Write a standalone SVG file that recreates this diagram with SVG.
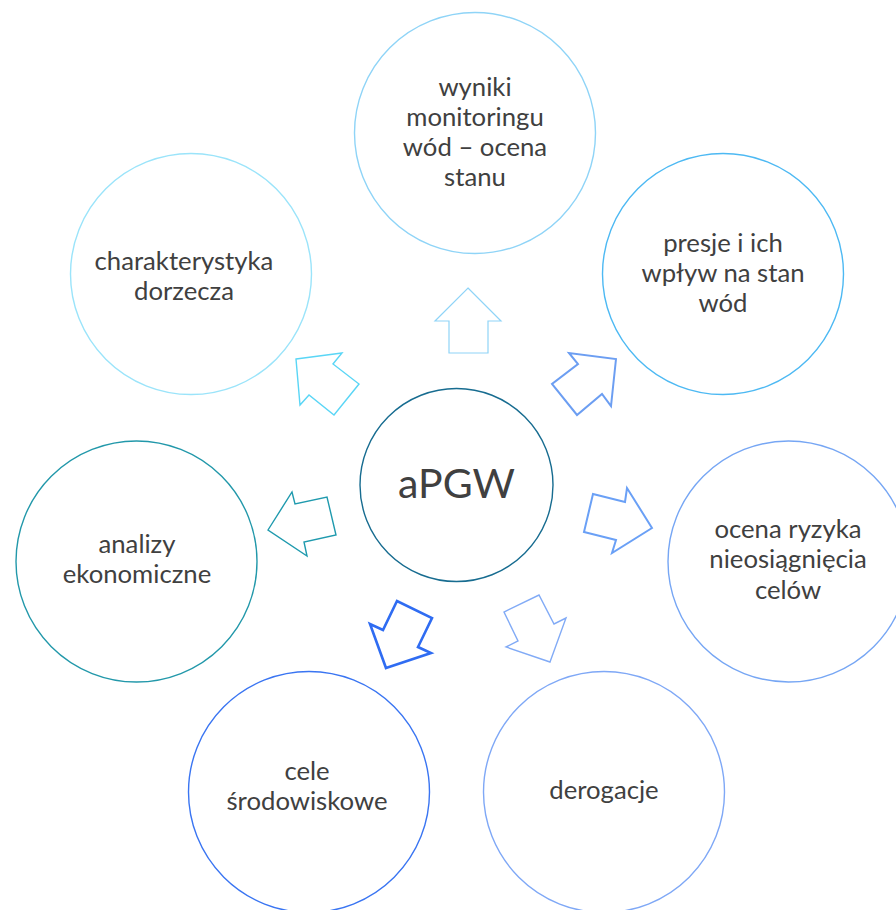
<svg xmlns="http://www.w3.org/2000/svg" width="896" height="910" viewBox="0 0 896 910">
<style>
  circle { fill: #ffffff; stroke-width: 1.4; }
  .t { font-family: Lato, "Open Sans", "Liberation Sans", sans-serif; font-size: 25.7px; fill: #404040; text-anchor: middle; }
  .big { font-size: 41px; }
  .arr { fill: #ffffff; stroke-linejoin: miter; }
</style>
<rect width="896" height="910" fill="#ffffff"/>
<g id="connectors">
  <polygon class="arr" stroke="#8fd4f7" stroke-width="1.2" points="468,288 501,321 488,321 488,353 449,353 449,321 435,321"/>
  <polygon class="arr" stroke="#5ad6f6" stroke-width="1.4" points="296,359 342,353 333,364 359,384 334,415 309,395 300,405"/>
  <polygon class="arr" stroke="#6c9ef2" stroke-width="2" points="616,359 611,406 602,394 577,415 552,384 578,364 569,353"/>
  <polygon class="arr" stroke="#6aa0f6" stroke-width="2" points="652,528 627,488 625,502 593,494 584,532 616,540 612,553"/>
  <polygon class="arr" stroke="#82abf6" stroke-width="1.4" points="550,662 566,618 554,624 539,595 504,612 518,641 506,647"/>
  <polygon class="arr" stroke="#2f6cf2" stroke-width="2.6" points="386,668 431,653 418,647 432,618 397,601 383,630 370,624"/>
  <polygon class="arr" stroke="#1f9aae" stroke-width="1.4" points="268,530 292,492 295,504 327,497 336,535 304,542 307,556"/>
</g>
<g id="node-charakterystyka">
  <circle cx="191" cy="274" r="120.5" stroke="#9be4fa"/>
  <text class="t" x="184" y="270">charakterystyka</text>
  <text class="t" x="184" y="300">dorzecza</text>
</g>
<g id="node-wyniki">
  <circle cx="475" cy="133" r="120.5" stroke="#8fd4f7"/>
  <text class="t" x="475" y="96">wyniki</text>
  <text class="t" x="475" y="126">monitoringu</text>
  <text class="t" x="475" y="156">wód – ocena</text>
  <text class="t" x="475" y="186">stanu</text>
</g>
<g id="node-presje">
  <circle cx="723" cy="274" r="120.5" stroke="#4db9f3"/>
  <text class="t" x="723" y="252">presje i ich</text>
  <text class="t" x="723" y="282">wpływ na stan</text>
  <text class="t" x="723" y="312">wód</text>
</g>
<g id="node-ocena">
  <circle cx="788.5" cy="561.5" r="120.5" stroke="#76a6f4"/>
  <text class="t" x="788" y="538">ocena ryzyka</text>
  <text class="t" x="788" y="568">nieosiągnięcia</text>
  <text class="t" x="788" y="599">celów</text>
</g>
<g id="node-derogacje">
  <circle cx="604" cy="792" r="120.5" stroke="#7fa8f6"/>
  <text class="t" x="604" y="799">derogacje</text>
</g>
<g id="node-cele">
  <circle cx="309" cy="792" r="120.5" stroke="#3a75f2"/>
  <text class="t" x="307" y="780">cele</text>
  <text class="t" x="307" y="810">środowiskowe</text>
</g>
<g id="node-analizy">
  <circle cx="136.5" cy="561.5" r="120.5" stroke="#2298aa"/>
  <text class="t" x="137" y="553">analizy</text>
  <text class="t" x="137" y="583">ekonomiczne</text>
</g>
<g id="node-apgw">
  <circle cx="456.5" cy="485" r="96.5" stroke="#176c90"/>
  <text class="t big" x="456.5" y="498">aPGW</text>
</g>
</svg>
